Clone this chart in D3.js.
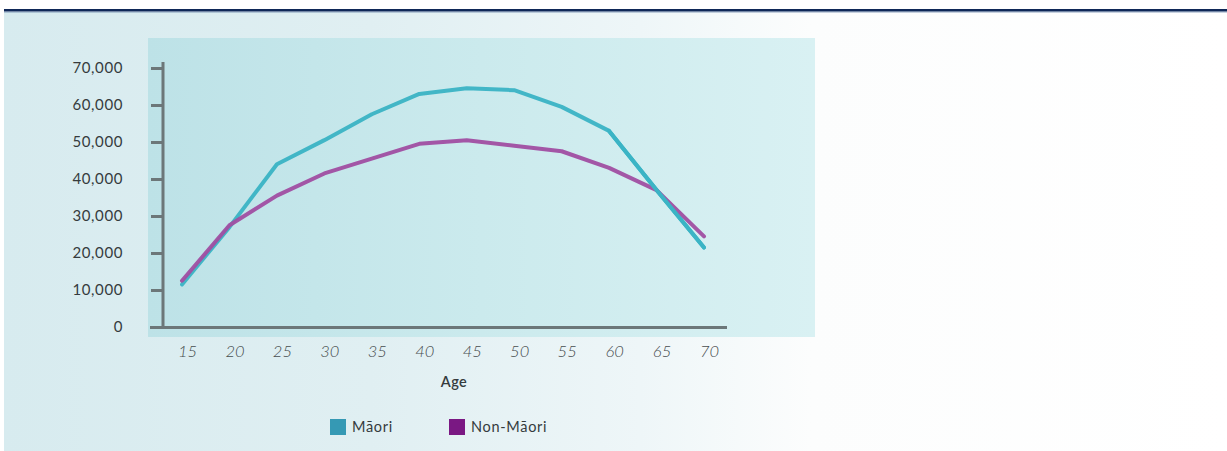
<!DOCTYPE html>
<html>
<head>
<meta charset="utf-8">
<script src="https://cdn.jsdelivr.net/npm/d3@7"></script>
<style>
  html, body { margin: 0; padding: 0; background: #ffffff; }
  svg { display: block; }
  text { font-family: Lato, "Open Sans", sans-serif; }
</style>
</head>
<body>
<svg id="chart" width="1227" height="451"></svg>
<script>
// Age groups (years)
const ages = [15, 20, 25, 30, 35, 40, 45, 50, 55, 60, 65, 70];
// Median income by age
const maori    = [11500, 27000, 44000, 50500, 57500, 63000, 64500, 64000, 59500, 53000, 37000, 21500];
const nonMaori = [12500, 27500, 35500, 41500, 45500, 49500, 50500, 49000, 47500, 43000, 37000, 24500];
// Axis tick values
const yTicks = [0, 10000, 20000, 30000, 40000, 50000, 60000, 70000];
const xTicks = ages;
const seriesNames = ["Māori", "Non-Māori"];
const lineColors = ["#3bb4c5", "#a14fa3"];
const legendColors = ["#3599b4", "#7a1883"];

const svg = d3.select("#chart");
const defs = svg.append("defs");

const outerGrad = defs.append("linearGradient").attr("id", "outerBg")
  .attr("x1", "0%").attr("x2", "100%").attr("y1", "0%").attr("y2", "0%");
[["0%", "#d7ebef"], ["30%", "#e0eff2"], ["52%", "#eef6f8"], ["66%", "#fcfdfd"], ["100%", "#ffffff"]]
  .forEach(([o, c]) => outerGrad.append("stop").attr("offset", o).attr("stop-color", c));

const innerGrad = defs.append("linearGradient").attr("id", "plotBg")
  .attr("x1", "0%").attr("x2", "100%").attr("y1", "0%").attr("y2", "0%");
[["0%", "#bde2e7"], ["50%", "#cbeaed"], ["100%", "#d9f1f3"]]
  .forEach(([o, c]) => innerGrad.append("stop").attr("offset", o).attr("stop-color", c));

defs.append("filter").attr("id", "soft")
  .append("feGaussianBlur").attr("stdDeviation", 0.5);

// Panel background and top rule
svg.append("rect").attr("x", 4).attr("y", 12).attr("width", 1223).attr("height", 439)
  .attr("fill", "url(#outerBg)");
svg.append("rect").attr("x", 4).attr("y", 9).attr("width", 1223).attr("height", 2.5)
  .attr("fill", "#0f2858");
svg.append("rect").attr("x", 4).attr("y", 11.5).attr("width", 1223).attr("height", 1)
  .attr("fill", "#4a6a9a").attr("opacity", 0.6);

// Plot area backdrop
svg.append("rect").attr("x", 148).attr("y", 38).attr("width", 667).attr("height", 299)
  .attr("fill", "url(#plotBg)");

// Scales
const x = d3.scaleLinear().domain([15, 70]).range([182, 704]);
const y = d3.scaleLinear().domain([0, 70000]).range([327, 68]);

// Y axis: ticks and labels
const yAxis = d3.axisLeft(y)
  .tickValues(yTicks)
  .tickSize(12)
  .tickPadding(28)
  .tickFormat(d3.format(","));
const gy = svg.append("g").attr("transform", "translate(163,0)").call(yAxis);
gy.select(".domain").remove();
gy.selectAll(".tick line")
  .attr("stroke", "#6c7779").attr("stroke-width", 3)
  .attr("opacity", d => d === 0 ? 0 : 1);
gy.selectAll(".tick text")
  .attr("fill", "#353b3d").attr("font-size", 15).attr("letter-spacing", "0.6px")
  .attr("font-family", "Lato, sans-serif");

// Axis lines
svg.append("line").attr("x1", 163).attr("x2", 163).attr("y1", 62).attr("y2", 328)
  .attr("stroke", "#6c7779").attr("stroke-width", 3);
svg.append("line").attr("x1", 150).attr("x2", 727).attr("y1", 327.5).attr("y2", 327.5)
  .attr("stroke", "#6c7779").attr("stroke-width", 3);

// X axis labels
const xAxis = d3.axisBottom(x).tickValues(xTicks).tickSize(0).tickPadding(0);
const gx = svg.append("g").attr("transform", "translate(5,345)").call(xAxis);
gx.select(".domain").remove();
gx.selectAll(".tick text")
  .attr("fill", "#474d4f").attr("font-size", 16.5).attr("font-style", "italic")
  .attr("font-weight", 300)
  .attr("font-family", "Lato, sans-serif").attr("dy", "0.72em");

svg.append("text").attr("x", 454).attr("y", 387).attr("text-anchor", "middle")
  .attr("font-size", 14.5).attr("font-weight", 600).attr("fill", "#353b3d")
  .attr("letter-spacing", "0.4px").text("Age");

// Lines
const line = d3.line().x((d, i) => x(ages[i])).y(d => y(d));
[maori, nonMaori].forEach((vals, k) => {
  svg.append("path").datum(vals)
    .attr("d", line)
    .attr("fill", "none")
    .attr("stroke", lineColors[k])
    .attr("stroke-width", 4)
    .attr("stroke-linejoin", "round")
    .attr("stroke-linecap", "round")
    .attr("opacity", 0.95)
    .attr("filter", "url(#soft)");
});
// Māori drawn over Non-Māori at the end crossing
svg.append("path").datum(maori.slice(9))
  .attr("d", d3.line().x((d, i) => x(ages[i + 9])).y(d => y(d)))
  .attr("fill", "none").attr("stroke", lineColors[0]).attr("stroke-width", 4)
  .attr("stroke-linecap", "round").attr("filter", "url(#soft)");

// Legend
const legendX = [330, 449];
seriesNames.forEach((name, k) => {
  const g = svg.append("g").attr("transform", `translate(${legendX[k]},419)`);
  g.append("rect").attr("width", 16).attr("height", 16).attr("fill", legendColors[k]);
  g.append("text").attr("x", 22).attr("y", 13)
    .attr("font-size", 14.5).attr("fill", "#353b3d").attr("letter-spacing", "0.7px")
    .text(name);
});
</script>
</body>
</html>
